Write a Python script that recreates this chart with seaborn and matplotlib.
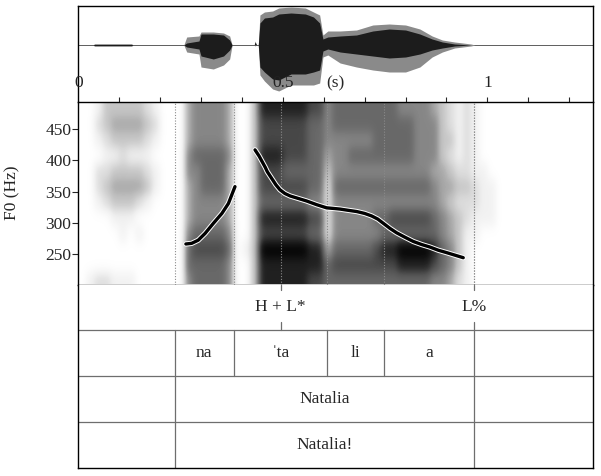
import numpy as np
import matplotlib
matplotlib.use('Agg')
import matplotlib.pyplot as plt
import matplotlib.patheffects as pe
import matplotlib.transforms as mtrans
import seaborn as sns

# --- data ------------------------------------------------------------------
duration = 1.257  # s

syll_bounds = [0.2357, 0.380, 0.609, 0.748, 0.9675]
syllables = ['na', 'ˈta', 'li', 'a']
tone_times = [0.495, 0.9675]
tone_labels = ['H + L*', 'L%']
word_bounds = [0.2357, 0.9675]
word_label = 'Natalia'
phrase_label = 'Natalia!'

time_labels = [0, 0.5, 1]
time_ticks = [0.1, 0.2, 0.3, 0.4, 0.5, 0.6, 0.7, 0.8, 0.9, 1.0, 1.1, 1.2]
f0_ticks = [250, 300, 350, 400, 450]

# pitch track, two voiced stretches
f0_t1 = [0.263, 0.277, 0.293, 0.310, 0.330, 0.351, 0.367, 0.383]
f0_hz1 = [266, 267, 272, 283, 299, 315, 331, 358]
f0_t2 = [0.432, 0.437, 0.442, 0.447, 0.452, 0.457, 0.462, 0.468, 0.473, 0.478, 0.483,
         0.488, 0.493, 0.505, 0.518, 0.538, 0.558, 0.583, 0.607, 0.624, 0.640, 0.660,
         0.681, 0.700, 0.717, 0.732, 0.746, 0.762, 0.778, 0.798, 0.819, 0.840, 0.860,
         0.880, 0.901, 0.921, 0.941]
f0_hz2 = [417, 412, 407, 401, 395, 389, 382, 376, 371, 366, 361,
          357, 353, 347, 343, 339, 335, 329, 324, 323, 322, 320,
          318, 315, 311, 306, 299, 291, 284, 277, 270, 265, 261,
          256, 252, 248, 244]

# waveform envelope (arbitrary units), outer grey and inner black
wave_t = [0.0, 0.035, 0.04, 0.13, 0.135, 0.258, 0.265, 0.295, 0.300, 0.330,
          0.355, 0.370, 0.376, 0.430, 0.432, 0.436, 0.440, 0.444, 0.455, 0.475,
          0.490, 0.520, 0.555, 0.575, 0.590, 0.598, 0.610, 0.640, 0.680, 0.720,
          0.760, 0.800, 0.835, 0.865, 0.890, 0.920, 0.960, 0.970, 1.257]
wave_top = [0, 0, 1.2, 1.2, 0, 0, 8, 9, 13, 13,
            12, 9, 0, 0, 4, 0, 0, 30, 33, 34,
            37, 38, 37, 33, 30, 10, 14, 14, 15, 20,
            21, 20, 16, 9, 5, 3, 1, 0, 0]
wave_bot = [0, 0, -1.2, -1.2, 0, 0, -7, -9, -22, -24,
            -20, -14, 0, 0, -1, 0, 0, -30, -36, -44,
            -46, -40, -40, -40, -38, -12, -10, -18, -22, -25,
            -27, -27, -22, -12, -7, -3, -1, 0, 0]
core_top = [0, 0, 0.6, 0.6, 0, 0, 2, 4, 11, 11,
            10, 5, 0, 0, 3, 0, 0, 22, 27, 28,
            31, 32, 31, 28, 22, 6, 8, 9, 10, 14,
            16, 15, 11, 6, 3, 1, 0, 0, 0]
core_bot = [0, 0, -0.6, -0.6, 0, 0, -2, -4, -11, -14,
            -11, -5, 0, 0, 0, 0, 0, -22, -27, -34,
            -35, -29, -29, -27, -25, -6, -4, -7, -9, -11,
            -13, -12, -9, -5, -3, -1, 0, 0, 0]

# spectrogram darkness 0-9, 0.02 s columns, 25 Hz rows (top row first)
spec_rows = [
    "00 13333321 000 455554 00 3 88888877 5 6666666655554 321 2100 000000000000",
    "00 23444432 000 455554 00 3 77777766 5 6666666666555 321 2100 000000000000",
    "00 12333321 000 455554 00 3 77777766 5 5555566666555 331 2100 000000000000",
    "00 01121110 000 566665 00 3 88877766 4 5566666666555 321 2100 000000000000",
    "00 22333321 000 556664 00 3 77766666 3 5555555555554 432 2110 000000000000",
    "00 23444431 000 456664 00 3 77777766 2 6666666666665 443 3211 000000000000",
    "00 12333210 000 455554 00 3 66666655 2 5555555555555 432 2211 000000000000",
    "00 00111000 000 455554 00 3 88888877 2 5555566777776 543 2111 000000000000",
    "00 00010100 000 566665 00 3 77777766 2 5555556666666 543 1100 000000000000",
    "00 00000000 000 677776 01 3 99999988 4 6666678899998 653 1000 000000000000",
    "00 00000000 000 666665 00 3 88888888 6 7777777788887 653 1000 000000000000",
    "01 22111000 000 566665 00 3 88888877 6 6666666666665 542 1000 000000000000",
]
spec_col_width = 0.02
spec_fmin, spec_fmax = 194, 494

# --- figure ------------------------------------------------------------------
sns.set_style('white')
plt.rcParams['font.family'] = ['Liberation Serif', 'DejaVu Serif']
plt.rcParams['font.size'] = 12.5

W, H = 601, 476
fig = plt.figure(figsize=(W / 100, H / 100), dpi=100)

def fy(px):
    return 1 - px / H

L, R = 78.3 / W, 592.5 / W
ax_wave = fig.add_axes([L, fy(101.5), R - L, fy(6) - fy(101.5)])
ax_spec = fig.add_axes([L, fy(284.5), R - L, fy(101.5) - fy(284.5)])
ax_tier = fig.add_axes([L, fy(468), R - L, fy(284.5) - fy(468)])

for ax in (ax_wave, ax_spec, ax_tier):
    ax.set_xlim(0, duration)
    for s in ax.spines.values():
        s.set_color('black')
        s.set_linewidth(1.0)

# waveform
ax_wave.set_ylim(-56.5, 39)
ax_wave.spines['bottom'].set_visible(False)
ax_wave.set_xticks([])
ax_wave.set_yticks([])
ax_wave.axhline(0, color='#444444', lw=0.6, zorder=2)
ax_wave.fill_between(wave_t, wave_bot, wave_top, color='#8a8a8a', lw=0, zorder=3)
ax_wave.fill_between(wave_t, core_bot, core_top, color='#1c1c1c', lw=0, zorder=4)
trans = mtrans.blended_transform_factory(ax_wave.transData, ax_wave.transAxes)
for t in time_labels:
    ax_wave.text(t, 0.19, f'{t:g}', transform=trans, ha='center', va='center', zorder=5,
                 color='#222222', clip_on=False)
ax_wave.text(0.628, 0.19, '(s)', transform=trans, ha='center', va='center', zorder=5)

# spectrogram
spec = np.array([[int(c) for c in row.replace(' ', '')] for row in spec_rows])
ax_spec.imshow(spec, cmap='Greys', vmin=0, vmax=9, aspect='auto', interpolation='gaussian',
               extent=[0, spec.shape[1] * spec_col_width, spec_fmin, spec_fmax], zorder=0)
ax_spec.set_xlim(0, duration)
ax_spec.set_ylim(201, 494.6)
for t in syll_bounds + tone_times:
    ax_spec.axvline(t, color='#8a8a8a', lw=0.8, ls=(0, (1, 1.5)), zorder=1)

stroke = [pe.Stroke(linewidth=3.8, foreground='white'), pe.Normal()]
sns.lineplot(x=f0_t1, y=f0_hz1, ax=ax_spec, color='black', lw=2.4, sort=False,
             estimator=None, path_effects=stroke, zorder=3)
sns.lineplot(x=f0_t2, y=f0_hz2, ax=ax_spec, color='black', lw=2.4, sort=False,
             estimator=None, path_effects=stroke, zorder=3)

ax_spec.set_xticks(time_ticks)
ax_spec.tick_params(axis='x', top=True, bottom=False, labelbottom=False, direction='out',
                    length=3.5, width=0.8)
ax_spec.set_yticks(f0_ticks)
ax_spec.tick_params(axis='y', left=True, direction='out', length=4, width=0.8, pad=1,
                    labelsize=12.5)
ax_spec.set_xlabel('')
ax_spec.set_ylabel('')
fig.text(12 / W, fy(193), 'F0 (Hz)', rotation=90, ha='center', va='center', fontsize=12.5)

# tiers
ax_tier.set_ylim(0, 4)
ax_tier.set_xticks([])
ax_tier.set_yticks([])
ax_tier.spines['top'].set_visible(False)
grey = '#6e6e6e'
for y in (1, 2, 3):
    ax_tier.axhline(y, color=grey, lw=0.9)

for t, lab in zip(tone_times, tone_labels):
    ax_tier.plot([t, t], [4, 3.88], color=grey, lw=0.9)
    ax_tier.plot([t, t], [3, 3.18], color=grey, lw=0.9)
    ax_tier.text(t, 3.5, lab, ha='center', va='center')

for t in syll_bounds:
    ax_tier.plot([t, t], [2, 3], color=grey, lw=0.9)
for a, b, lab in zip(syll_bounds[:-1], syll_bounds[1:], syllables):
    ax_tier.text((a + b) / 2, 2.5, lab, ha='center', va='center')

for t in word_bounds:
    ax_tier.plot([t, t], [0, 2], color=grey, lw=0.9)
mid = (word_bounds[0] + word_bounds[1]) / 2
ax_tier.text(mid, 1.5, word_label, ha='center', va='center')
ax_tier.text(mid, 0.5, phrase_label, ha='center', va='center')

fig.savefig('out.png', dpi=100)
